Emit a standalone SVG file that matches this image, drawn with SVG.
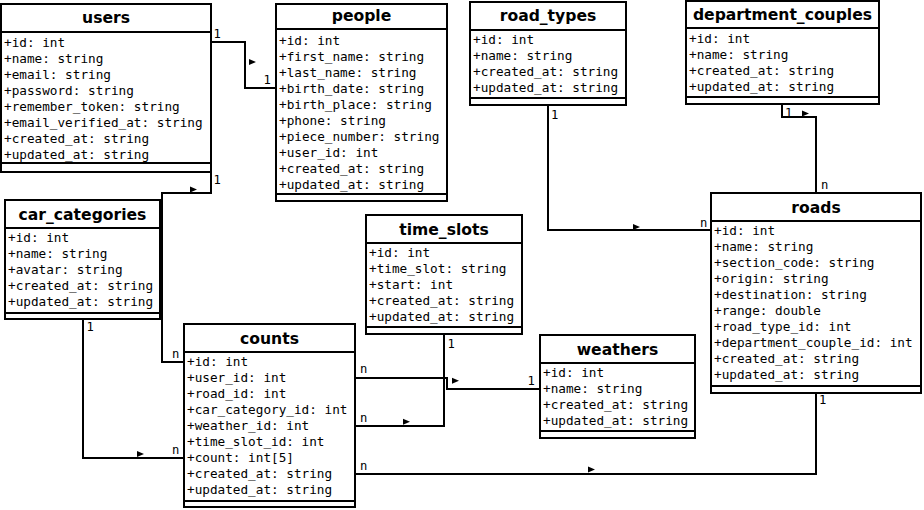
<svg xmlns="http://www.w3.org/2000/svg" xmlns:xlink="http://www.w3.org/1999/xlink" width="924" height="510" viewBox="0 0 924 510">
<style>
.box{fill:#fff;stroke:#000;stroke-width:2}
.ln{stroke:#000;stroke-width:2;fill:none}
.t{font-family:"DejaVu Sans","Liberation Sans",sans-serif;font-weight:bold;font-size:15.6px;text-anchor:middle;fill:#000}
.a{font-family:"DejaVu Sans Mono","Liberation Mono",monospace;font-size:12.7px;fill:#000}
.l{font-family:"DejaVu Sans Mono","Liberation Mono",monospace;font-size:12.2px;fill:#000}
</style>
<defs>
<path id="arr" d="M0,-3 L7,0 L0,3 Z" fill="#000"/>
</defs>
<rect width="924" height="510" fill="#fff"/>

<g id="connectors">
<path class="ln" d="M211,42 H245 V88 H276"/>
<path class="ln" d="M211,172 V193 H162 V362 H184"/>
<path class="ln" d="M83,319 V458 H184"/>
<path class="ln" d="M355,426 H444 V334"/>
<path class="ln" d="M355,378 H447 V389 H540"/>
<path class="ln" d="M548,105 V230 H711"/>
<path class="ln" d="M816,193 V117 H782 V104"/>
<path class="ln" d="M816,393 V474 H355"/>
<use xlink:href="#arr" x="249" y="62"/>
<use xlink:href="#arr" x="190" y="189.5"/>
<use xlink:href="#arr" x="137" y="454"/>
<use xlink:href="#arr" x="403" y="421.7"/>
<use xlink:href="#arr" x="452" y="380.7"/>
<use xlink:href="#arr" x="633" y="227"/>
<use xlink:href="#arr" x="802" y="113.5"/>
<use xlink:href="#arr" x="588" y="469.5"/>
<text class="l" x="213.5" y="37.5">1</text>
<text class="l" x="263.5" y="83.5">1</text>
<text class="l" x="213.5" y="184">1</text>
<text class="l" x="172" y="357.5">n</text>
<text class="l" x="86.5" y="331">1</text>
<text class="l" x="172" y="453.5">n</text>
<text class="l" x="360" y="421.5">n</text>
<text class="l" x="447.5" y="347.5">1</text>
<text class="l" x="360" y="372.5">n</text>
<text class="l" x="527.5" y="385">1</text>
<text class="l" x="551" y="118.5">1</text>
<text class="l" x="700" y="226.5">n</text>
<text class="l" x="785" y="117">1</text>
<text class="l" x="821" y="188.5">n</text>
<text class="l" x="819" y="404">1</text>
<text class="l" x="360" y="470">n</text>
</g>

<g id="users">
<rect class="box" x="1" y="4" width="210" height="168"/>
<path class="ln" d="M1,32 H211 M1,163 H211"/>
<text class="t" x="106" y="23">users</text>
<text class="a" x="4" y="46.5">+id: int</text>
<text class="a" x="4" y="62.5">+name: string</text>
<text class="a" x="4" y="78.5">+email: string</text>
<text class="a" x="4" y="94.5">+password: string</text>
<text class="a" x="4" y="110.5">+remember_token: string</text>
<text class="a" x="4" y="126.5">+email_verified_at: string</text>
<text class="a" x="4" y="142.5">+created_at: string</text>
<text class="a" x="4" y="158.5">+updated_at: string</text>
</g>

<g id="people">
<rect class="box" x="276" y="4" width="171" height="197"/>
<path class="ln" d="M276,29 H447 M276,194 H447"/>
<text class="t" x="361.5" y="21">people</text>
<text class="a" x="279" y="44.5">+id: int</text>
<text class="a" x="279" y="60.5">+first_name: string</text>
<text class="a" x="279" y="76.5">+last_name: string</text>
<text class="a" x="279" y="92.5">+birth_date: string</text>
<text class="a" x="279" y="108.5">+birth_place: string</text>
<text class="a" x="279" y="124.5">+phone: string</text>
<text class="a" x="279" y="140.5">+piece_number: string</text>
<text class="a" x="279" y="156.5">+user_id: int</text>
<text class="a" x="279" y="172.5">+created_at: string</text>
<text class="a" x="279" y="188.5">+updated_at: string</text>
</g>

<g id="road_types">
<rect class="box" x="470" y="2" width="156" height="103"/>
<path class="ln" d="M470,30 H626 M470,98 H626"/>
<text class="t" x="548" y="21">road_types</text>
<text class="a" x="473" y="43.8">+id: int</text>
<text class="a" x="473" y="59.8">+name: string</text>
<text class="a" x="473" y="75.8">+created_at: string</text>
<text class="a" x="473" y="91.8">+updated_at: string</text>
</g>

<g id="department_couples">
<rect class="box" x="686" y="1" width="193" height="103"/>
<path class="ln" d="M686,28 H879 M686,97 H879"/>
<text class="t" x="782.5" y="20">department_couples</text>
<text class="a" x="689" y="42.8">+id: int</text>
<text class="a" x="689" y="58.8">+name: string</text>
<text class="a" x="689" y="74.8">+created_at: string</text>
<text class="a" x="689" y="90.8">+updated_at: string</text>
</g>

<g id="roads">
<rect class="box" x="711" y="193" width="210" height="200"/>
<path class="ln" d="M711,221 H921 M711,386 H921"/>
<text class="t" x="816" y="212.5">roads</text>
<text class="a" x="714" y="235.2">+id: int</text>
<text class="a" x="714" y="251.2">+name: string</text>
<text class="a" x="714" y="267.2">+section_code: string</text>
<text class="a" x="714" y="283.2">+origin: string</text>
<text class="a" x="714" y="299.2">+destination: string</text>
<text class="a" x="714" y="315.2">+range: double</text>
<text class="a" x="714" y="331.2">+road_type_id: int</text>
<text class="a" x="714" y="347.2">+department_couple_id: int</text>
<text class="a" x="714" y="363.2">+created_at: string</text>
<text class="a" x="714" y="379.2">+updated_at: string</text>
</g>

<g id="car_categories">
<rect class="box" x="5" y="200" width="155" height="119"/>
<path class="ln" d="M5,228 H160 M5,313 H160"/>
<text class="t" x="82.5" y="220">car_categories</text>
<text class="a" x="8" y="242.2">+id: int</text>
<text class="a" x="8" y="258.2">+name: string</text>
<text class="a" x="8" y="274.2">+avatar: string</text>
<text class="a" x="8" y="290.2">+created_at: string</text>
<text class="a" x="8" y="306.2">+updated_at: string</text>
</g>

<g id="counts">
<rect class="box" x="184" y="324" width="171" height="183"/>
<path class="ln" d="M184,352 H355 M184,501 H355"/>
<text class="t" x="269.5" y="344">counts</text>
<text class="a" x="187" y="366.2">+id: int</text>
<text class="a" x="187" y="382.2">+user_id: int</text>
<text class="a" x="187" y="398.2">+road_id: int</text>
<text class="a" x="187" y="414.2">+car_category_id: int</text>
<text class="a" x="187" y="430.2">+weather_id: int</text>
<text class="a" x="187" y="446.2">+time_slot_id: int</text>
<text class="a" x="187" y="462.2">+count: int[5]</text>
<text class="a" x="187" y="478.2">+created_at: string</text>
<text class="a" x="187" y="494.2">+updated_at: string</text>
</g>

<g id="time_slots">
<rect class="box" x="366" y="215" width="156" height="119"/>
<path class="ln" d="M366,243 H522 M366,327 H522"/>
<text class="t" x="444" y="235">time_slots</text>
<text class="a" x="369" y="257.2">+id: int</text>
<text class="a" x="369" y="273.2">+time_slot: string</text>
<text class="a" x="369" y="289.2">+start: int</text>
<text class="a" x="369" y="305.2">+created_at: string</text>
<text class="a" x="369" y="321.2">+updated_at: string</text>
</g>

<g id="weathers">
<rect class="box" x="540" y="335" width="155" height="103"/>
<path class="ln" d="M540,363 H695 M540,431 H695"/>
<text class="t" x="617.5" y="355">weathers</text>
<text class="a" x="543" y="377.2">+id: int</text>
<text class="a" x="543" y="393.2">+name: string</text>
<text class="a" x="543" y="409.2">+created_at: string</text>
<text class="a" x="543" y="425.2">+updated_at: string</text>
</g>
</svg>
